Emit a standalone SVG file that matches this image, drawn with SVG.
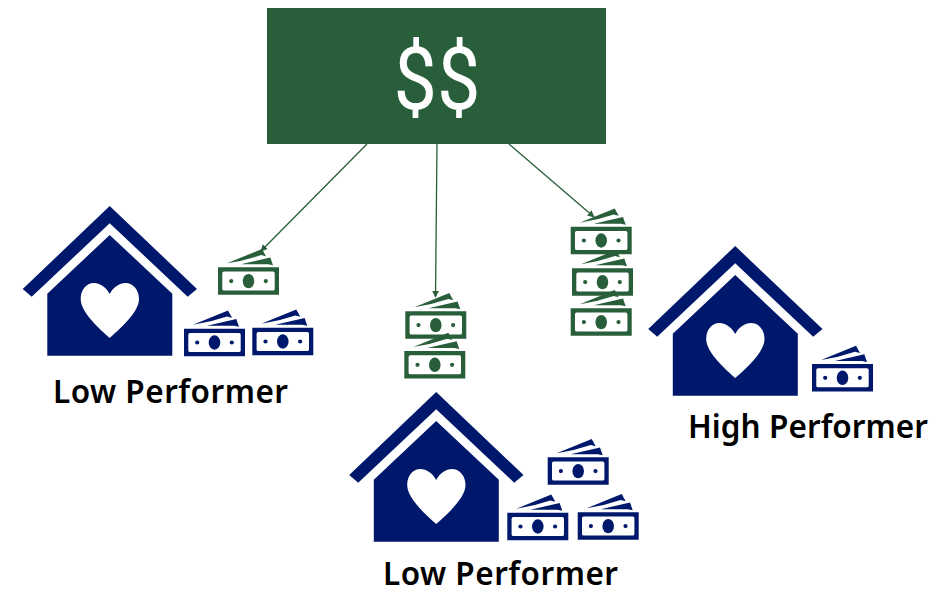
<svg xmlns="http://www.w3.org/2000/svg" width="950" height="598" viewBox="0 0 950 598">
<style>
.lbl{font-family:"Noto Sans","Liberation Sans",sans-serif;font-size:31.500px;font-weight:600;fill:#000}
.conn{stroke:#285e39;stroke-width:1.3;fill:none;marker-end:url(#arr)}
.g{fill:#285e39}
.b{fill:#00186c}
</style>
<defs>
<marker id="arr" viewBox="0 0 10 10" refX="9" refY="5" markerWidth="7" markerHeight="7" markerUnits="userSpaceOnUse" orient="auto"><path d="M0 0L10 5L0 10Z" fill="#285e39"/></marker>
<symbol id="house" overflow="visible">
<path d="M109.700 206L197 289L187.700 296.700L109.700 223.300L31.700 296.700L22.700 289Z"/>
<path fill-rule="evenodd" d="M109.700 235L172.300 293.700V355.700H47.300V293.700ZM109.700 294C106 287 100 283 94 283C86 283 80.700 290 80.700 299C80.700 311 96 326 109.700 338C123.400 326 139 311 139 299C139 290 133.400 283 125.400 283C119.400 283 113.400 287 109.700 294Z"/>
</symbol>
<symbol id="bill" overflow="visible">
<path fill-rule="evenodd" d="M0 0H61V27.500H0ZM6 4.300Q4.300 4.300 4.300 6V21.700Q4.300 23.300 6 23.300H55Q56.700 23.300 56.700 21.700V6Q56.700 4.300 55 4.300Z"/>
<ellipse cx="30.500" cy="13.800" rx="5.800" ry="7.200"/>
<circle cx="13.200" cy="13.800" r="2.100"/><circle cx="47.800" cy="13.800" r="2.100"/>
<path d="M9-4L44-18.300L48-11L43-12.300Q26-6.500 9-4Z"/>
<path d="M23-3L52.300-9.700L55-2L50-3Q36-3 23-3Z"/>
</symbol>
</defs>
<g id="connectors">
<line class="conn" x1="367" y1="144" x2="261" y2="251"/>
<line class="conn" x1="437" y1="144" x2="435.500" y2="297"/>
<line class="conn" x1="509" y1="144" x2="594" y2="217"/>
</g>
<g id="funds">
<rect class="g" x="267" y="8" width="339" height="136"/>
<text transform="translate(437 108.500) scale(0.89 1)" font-family="Roboto,'Liberation Sans',sans-serif" font-size="87" font-weight="400" fill="#fff" text-anchor="middle">$$</text>
</g>
<g id="low-performer-1" class="b">
<use href="#house"/>
<use href="#bill" x="184" y="328.700"/>
<use href="#bill" x="252.300" y="327.700"/>
<text class="lbl" x="53" y="402.500" textLength="235" lengthAdjust="spacing">Low Performer</text>
</g>
<use class="g" id="money-1" href="#bill" x="218" y="267.300"/>
<g id="low-performer-2" class="b">
<use href="#house" x="326.500" y="186"/>
<use href="#bill" x="547.700" y="457.300"/>
<use href="#bill" x="507.300" y="512.700"/>
<use href="#bill" x="577.700" y="512.300"/>
<text class="lbl" x="383" y="584.500" textLength="235" lengthAdjust="spacing">Low Performer</text>
</g>
<g id="money-2" class="g">
<use href="#bill" x="405.300" y="311.300"/>
<use href="#bill" x="404.300" y="351"/>
</g>
<g id="money-3" class="g">
<use href="#bill" x="570.700" y="226.700"/>
<use href="#bill" x="572" y="268.300"/>
<use href="#bill" x="570.700" y="308.300"/>
</g>
<g id="high-performer" class="b">
<use href="#house" x="625.500" y="40"/>
<use href="#bill" x="812" y="364"/>
<text class="lbl" x="688" y="437.500" textLength="240" lengthAdjust="spacing">High Performer</text>
</g>
</svg>
